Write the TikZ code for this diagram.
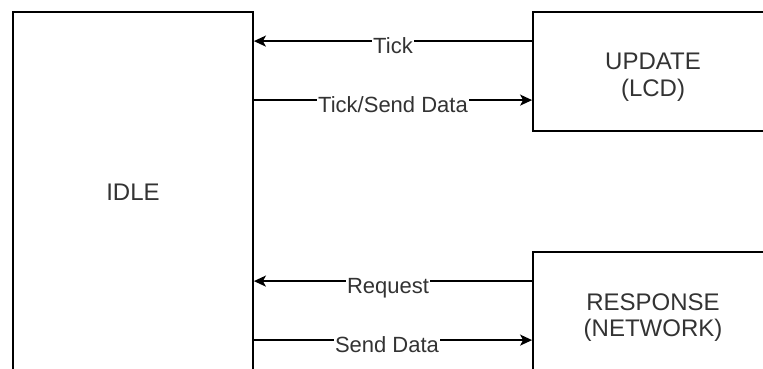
\documentclass[tikz,border=0pt]{standalone}
\usepackage{fontspec}
\setmainfont{Liberation Sans}
\usetikzlibrary{arrows.meta}
\definecolor{ink}{HTML}{000000}
\definecolor{txt}{HTML}{333333}
\tikzset{
  statebox/.style={draw=ink, line width=1.8pt, fill=white, inner sep=0pt},
  statetext/.style={text=txt, align=center, inner sep=0pt,
    font=\fontsize{24}{26.7}\selectfont},
  flow/.style={draw=ink, line width=1.7pt,
    -{Stealth[length=12pt, width=11pt, inset=3pt]}},
  flowlabel/.style={midway, anchor=base, yshift=-12pt, fill=white,
    inner xsep=1pt, inner ysep=2pt, text=txt,
    font=\fontsize{22}{26}\selectfont}
}
\begin{document}
\begin{tikzpicture}[x=1pt, y=-1pt]
  \useasboundingbox (0,0) rectangle (763,369);

  % state boxes (right and bottom edges run past the page)
  \node[statebox, minimum width=240pt, minimum height=360pt] (idle) at (133,192) {};
  \node[statebox, minimum width=240pt, minimum height=119pt] (upd) at (653,71.5) {};
  \node[statebox, minimum width=240pt, minimum height=120pt] (resp) at (653,312) {};

  \node[statetext] (idletxt) at ([yshift=-0.5pt]idle.center) {IDLE};
  \node[statetext] (updtxt) at ([yshift=-5.5pt]upd.center) {UPDATE\\(LCD)};
  \node[statetext] (resptxt) at ([yshift=-5.5pt]resp.center) {RESPONSE\\(NETWORK)};

  % transitions between IDLE and UPDATE
  \draw[flow] ([yshift=-30pt]upd.north west) -- ([yshift=-30pt]idle.north east)
    node[flowlabel] (ltick) {Tick};
  \draw[flow] ([yshift=-89pt]idle.north east) -- ([yshift=-89pt]upd.north west)
    node[flowlabel] (ltsd) {Tick/Send Data};

  % transitions between IDLE and RESPONSE
  \draw[flow] ([yshift=-30pt]resp.north west) -- ([yshift=-270pt]idle.north east)
    node[flowlabel, xshift=-5pt] (lreq) {Request};
  \draw[flow] ([yshift=-329pt]idle.north east) -- ([yshift=-89pt]resp.north west)
    node[flowlabel, xshift=-6pt] (lsd) {Send Data};
\end{tikzpicture}
\end{document}
